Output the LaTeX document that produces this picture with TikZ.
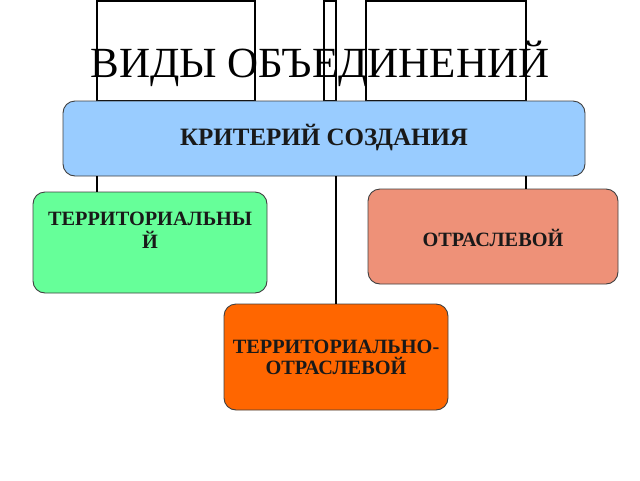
\documentclass[tikz,border=0pt]{standalone}
\usepackage{fontspec}
\setmainfont{Liberation Serif}
\definecolor{cblue}{HTML}{99CCFF}
\definecolor{cgreen}{HTML}{66FF99}
\definecolor{csalmon}{HTML}{EE9178}
\definecolor{corange}{HTML}{FF6600}
\definecolor{cborder}{HTML}{404040}
\begin{document}
\begin{tikzpicture}[x=1pt,y=-1pt,
  box/.style={draw=cborder, line width=0.9pt, rounded corners=12pt, inner sep=0pt},
  btext/.style={font=\fontsize{20.3}{21}\selectfont\bfseries, text=black!90, align=center, inner sep=0pt},
  conn/.style={draw=black, line width=1.3pt},
  frame/.style={draw=black, line width=1.2pt}]
\useasboundingbox (0,0) rectangle (640,480);
% background frames at the top
\draw[frame] (97,1) rectangle (255,101);
\draw[frame] (324,1) rectangle (336,101);
\draw[frame] (366,1) rectangle (526,101);
% title
\node[font=\fontsize{43}{46}\selectfont, anchor=base, inner sep=0pt] (title) at (320,77) {ВИДЫ ОБЪЕДИНЕНИЙ};
% boxes
\node[box, fill=cblue, minimum width=522pt, minimum height=75pt] (crit) at (324,138.5) {};
\node[btext, font=\fontsize{25}{28}\selectfont\bfseries] (crittext) at (324,138) {КРИТЕРИЙ СОЗДАНИЯ};
\node[box, fill=cgreen, minimum width=234pt, minimum height=101pt] (terr) at (150,242.5) {};
\node[btext, font=\fontsize{20.3}{23}\selectfont\bfseries] (terrtext) at (150,230) {ТЕРРИТОРИАЛЬНЫ\\Й};
\node[box, fill=csalmon, minimum width=250pt, minimum height=95pt] (otr) at (493,236.5) {};
\node[btext] (otrtext) at (493,238) {ОТРАСЛЕВОЙ};
\node[box, fill=corange, minimum width=224pt, minimum height=106pt] (tot) at (336,357) {};
\node[btext] (tottext) at (336,357) {ТЕРРИТОРИАЛЬНО-\\ОТРАСЛЕВОЙ};
% connectors
\coordinate (cx1) at (97,0);
\coordinate (cx2) at (336,0);
\coordinate (cx3) at (526,0);
\draw[conn] (crit.south -| cx1) -- (terr.north -| cx1);
\draw[conn] (crit.south -| cx2) -- (tot.north -| cx2);
\draw[conn] (crit.south -| cx3) -- (otr.north -| cx3);
\end{tikzpicture}
\end{document}
